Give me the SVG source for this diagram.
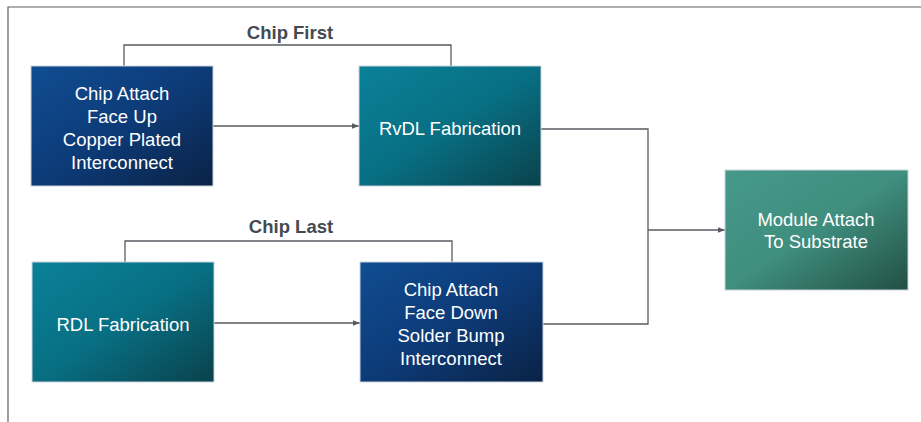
<svg xmlns="http://www.w3.org/2000/svg" width="921" height="422" viewBox="0 0 921 422">
<style>
.box{stroke:#c9d3de;stroke-width:1}
.t{font-family:"Liberation Sans",Arial,sans-serif;font-size:18.5px;fill:#ffffff;text-anchor:middle}
.lbl{font-family:"Liberation Sans",Arial,sans-serif;font-size:18.5px;font-weight:bold;fill:#444a52;text-anchor:middle}
.ln{fill:none;stroke:#575c63;stroke-width:1.3}
</style>
<defs>
<linearGradient id="gBlue" x1="0" y1="0" x2="1" y2="1">
<stop offset="0" stop-color="#104d92"/><stop offset="0.5" stop-color="#0d3b78"/><stop offset="1" stop-color="#0a2245"/>
</linearGradient>
<linearGradient id="gTeal" x1="0" y1="0" x2="1" y2="1">
<stop offset="0" stop-color="#0a8199"/><stop offset="0.5" stop-color="#086f83"/><stop offset="1" stop-color="#0a424c"/>
</linearGradient>
<linearGradient id="gGreen" x1="0" y1="0" x2="1" y2="1">
<stop offset="0" stop-color="#46998a"/><stop offset="0.5" stop-color="#3f8e7e"/><stop offset="1" stop-color="#224f44"/>
</linearGradient>
<marker id="arr" viewBox="0 0 10 10" refX="10" refY="5" markerWidth="7" markerHeight="7" markerUnits="userSpaceOnUse" orient="auto">
<path d="M0,1 L10,5 L0,9 Z" fill="#575c63"/>
</marker>
</defs>
<rect width="921" height="422" fill="#ffffff"/>
<path d="M8,422 V7 H921" fill="none" stroke="#5a5f66" stroke-width="1.2"/>
<g id="connectors">
<path class="ln" d="M124,66 V45 H451 V66"/>
<path class="ln" d="M125,262 V241 H452 V262"/>
<path class="ln" d="M213,126 H359" marker-end="url(#arr)"/>
<path class="ln" d="M214,323 H360" marker-end="url(#arr)"/>
<path class="ln" d="M541,129 H648 V324 H543"/>
<path class="ln" d="M648,230 H725" marker-end="url(#arr)"/>
</g>
<g id="label-chip-first"><text class="lbl" x="290" y="39">Chip First</text></g>
<g id="label-chip-last"><text class="lbl" x="291" y="233">Chip Last</text></g>
<g id="n1">
<rect class="box" x="31" y="66" width="182" height="120" fill="url(#gBlue)"/>
<text class="t" x="122" y="100">Chip Attach</text>
<text class="t" x="122" y="123">Face Up</text>
<text class="t" x="122" y="146">Copper Plated</text>
<text class="t" x="122" y="169">Interconnect</text>
</g>
<g id="n2">
<rect class="box" x="359" y="66" width="182" height="120" fill="url(#gTeal)"/>
<text class="t" x="450" y="135">RvDL Fabrication</text>
</g>
<g id="n3">
<rect class="box" x="32" y="262" width="182" height="120" fill="url(#gTeal)"/>
<text class="t" x="123" y="331">RDL Fabrication</text>
</g>
<g id="n4">
<rect class="box" x="360" y="262" width="183" height="120" fill="url(#gBlue)"/>
<text class="t" x="451" y="296">Chip Attach</text>
<text class="t" x="451" y="319">Face Down</text>
<text class="t" x="451" y="342">Solder Bump</text>
<text class="t" x="451" y="365">Interconnect</text>
</g>
<g id="n5">
<rect class="box" x="725" y="170" width="183" height="120" fill="url(#gGreen)"/>
<text class="t" x="816" y="226">Module Attach</text>
<text class="t" x="816" y="248">To Substrate</text>
</g>
</svg>
